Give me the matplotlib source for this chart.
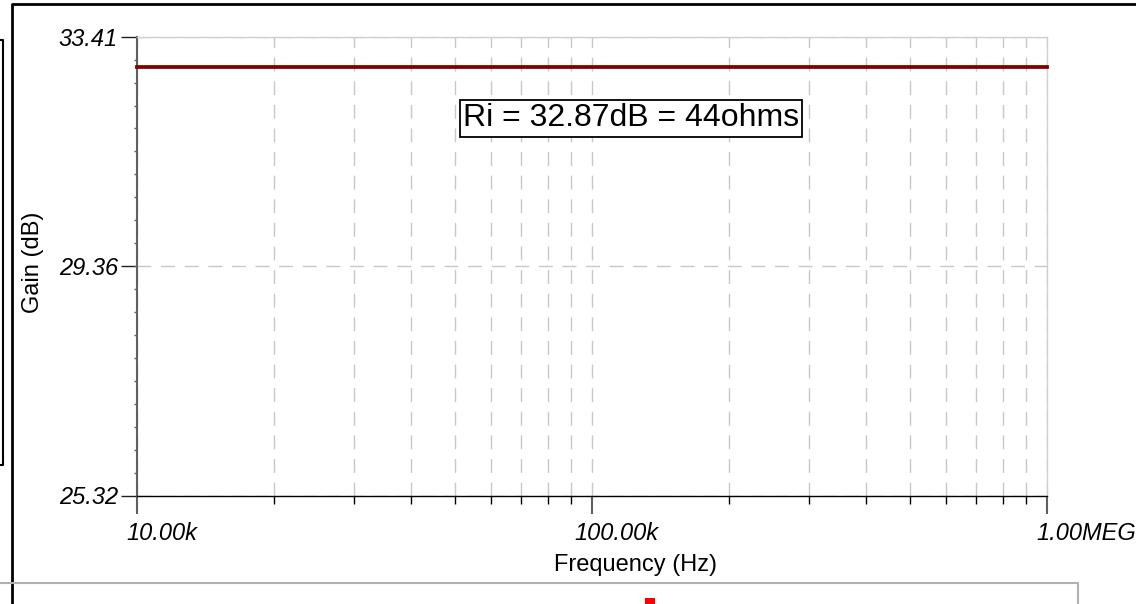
import numpy as np
import matplotlib
matplotlib.use("Agg")
import matplotlib.pyplot as plt
from matplotlib.lines import Line2D
from matplotlib.patches import Rectangle
from matplotlib.ticker import FixedLocator, LogLocator, NullFormatter
from matplotlib.transforms import ScaledTranslation

plt.rcParams['font.family'] = ['Liberation Sans', 'DejaVu Sans']

# --- data ---
freq_hz = [10e3, 1e6]
gain_db = [32.87, 32.87]
y_ticks = [25.32, 29.36, 33.41]
y_tick_labels = ["25.32", "29.36", "33.41"]
x_ticks = [1e4, 1e5, 1e6]
x_tick_labels = ["10.00k", "100.00k", "1.00MEG"]
note = "Ri = 32.87dB = 44ohms"

W, H = 1136, 604
fig = plt.figure(figsize=(W / 100, H / 100), dpi=100)

def fx(px):
    return px / W

def fy(py):
    return 1 - py / H

# plot area in pixels: left 136.7, right 1047, top 36.7, bottom 495.5
ax = fig.add_axes([fx(136.7), fy(495.5), fx(1047 - 136.7), (495.5 - 36.7) / H])

ax.semilogx(freq_hz, gain_db, color='#800000', lw=2.7,
            solid_capstyle='projecting', clip_on=False, zorder=5)
ax.set_xlim(x_ticks[0], x_ticks[-1])
ax.set_ylim(y_ticks[0], y_ticks[-1])

# spines
ax.spines['left'].set_color('#606060')
ax.spines['left'].set_linewidth(1.5)
ax.spines['bottom'].set_color('black')
ax.spines['bottom'].set_linewidth(1.0)
for s in ('top', 'right'):
    ax.spines[s].set_color('#d0d0d0')
    ax.spines[s].set_linewidth(1.0)

# x ticks
ax.xaxis.set_major_locator(FixedLocator(x_ticks))
ax.set_xticklabels(x_tick_labels)
ax.xaxis.set_minor_locator(LogLocator(base=10, subs=np.arange(2, 10)))
ax.xaxis.set_minor_formatter(NullFormatter())
ax.tick_params(axis='x', which='major', direction='out', length=13, width=1.5,
               color='#606060', pad=6, labelsize=17)
ax.tick_params(axis='x', which='minor', direction='out', length=6, width=1,
               color='black')

# y ticks
ax.yaxis.set_major_locator(FixedLocator(y_ticks))
ax.set_yticklabels(y_tick_labels)
ax.yaxis.set_minor_locator(FixedLocator(np.linspace(y_ticks[0], y_ticks[-1], 21)))
ax.tick_params(axis='y', which='major', direction='out', length=11.5, width=1,
               color='#202020', pad=2, labelsize=17)
ax.tick_params(axis='y', which='minor', direction='out', length=2, width=1,
               color='#606060')

for lbl in ax.get_xticklabels() + ax.get_yticklabels():
    lbl.set_fontstyle('italic')

# label offsets (points) like the source program places them
for lbl, dx in zip(ax.get_xticklabels(), [18, 18, 28]):
    lbl.set_transform(lbl.get_transform() + ScaledTranslation(dx / 72, 0, fig.dpi_scale_trans))

# grid
ax.xaxis.grid(True, which='both', ls=(0, (10, 7)), color='#c8c8c8', lw=1)
ax.yaxis.grid(True, which='major', ls=(0, (10, 7)), color='#c8c8c8', lw=1)
ax.set_axisbelow(True)

ax.text(0.543, 0.822, note, transform=ax.transAxes, ha='center', va='center',
        fontsize=23, bbox=dict(boxstyle='square,pad=0.1', fc='white', ec='black', lw=1.3))

fig.text(fx(636), fy(565), "Frequency (Hz)", ha='center', va='center', fontsize=17)
fig.text(fx(33), fy(262), "Gain (dB)", ha='center', va='center', fontsize=17, rotation=90)

# window frames around the plot
fig.add_artist(Line2D([fx(12), fx(12), fx(1136)], [fy(604), fy(4), fy(4)],
                      transform=fig.transFigure, color='black', lw=2))
fig.add_artist(Line2D([fx(0), fx(2.5), fx(2.5), fx(0)], [fy(40), fy(40), fy(465), fy(465)],
                      transform=fig.transFigure, color='black', lw=1.5))
fig.add_artist(Line2D([fx(0), fx(1078), fx(1078)], [fy(583), fy(583), fy(604)],
                      transform=fig.transFigure, color='#b0b0b0', lw=1.5))
fig.add_artist(Rectangle((fx(645), fy(604)), fx(10), 6 / H,
                         transform=fig.transFigure, color='red', lw=0))

fig.savefig("out.png", dpi=100)
